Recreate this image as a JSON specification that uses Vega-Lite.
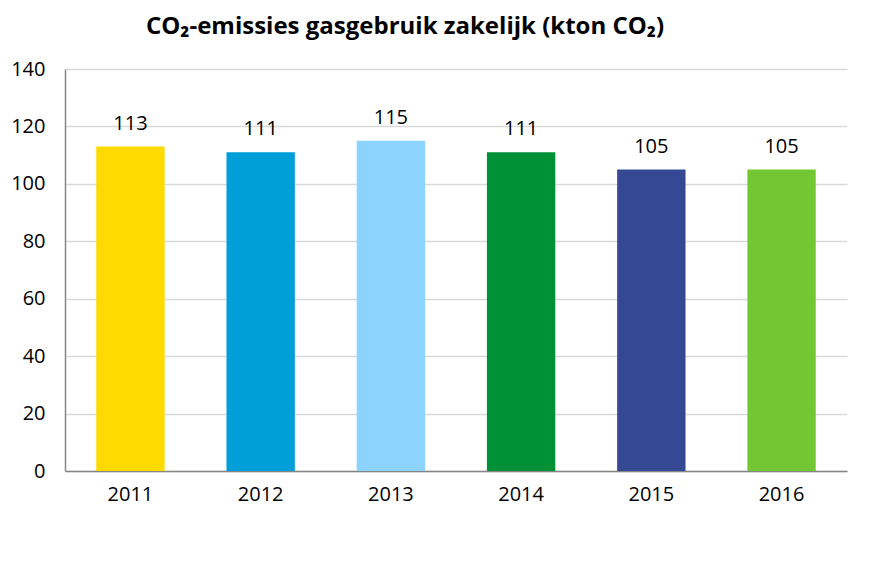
{
  "$schema": "https://vega.github.io/schema/vega-lite/v6.json",
  "width": 782,
  "height": 402,
  "autosize": {"type": "none"},
  "padding": {"left": 65, "top": 69, "right": 25, "bottom": 113},
  "background": "white",
  "title": {
    "text": "CO₂-emissies gasgebruik zakelijk (kton CO₂)",
    "font": "Open Sans",
    "fontSize": 24,
    "fontWeight": "bold",
    "color": "#000000",
    "anchor": "middle",
    "dx": -51,
    "offset": 20
  },
  "data": {
    "values": [
      {"jaar": "2011", "waarde": 113},
      {"jaar": "2012", "waarde": 111},
      {"jaar": "2013", "waarde": 115},
      {"jaar": "2014", "waarde": 111},
      {"jaar": "2015", "waarde": 105},
      {"jaar": "2016", "waarde": 105}
    ]
  },
  "config": {
    "view": {"stroke": null},
    "font": "Open Sans"
  },
  "encoding": {
    "x": {
      "field": "jaar",
      "type": "nominal",
      "scale": {"paddingInner": 0.475, "paddingOuter": 0.24},
      "axis": {
        "title": null,
        "labelAngle": 0,
        "labelFontSize": 20,
        "labelColor": "#000000",
        "labelPadding": 13,
        "ticks": false,
        "domainColor": "#868686",
        "domainWidth": 1.5,
        "grid": false
      }
    },
    "y": {
      "field": "waarde",
      "type": "quantitative",
      "scale": {"domain": [0, 140], "nice": false},
      "axis": {
        "title": null,
        "values": [0, 20, 40, 60, 80, 100, 120, 140],
        "labelFontSize": 20,
        "labelColor": "#000000",
        "labelPadding": 20,
        "ticks": false,
        "domainColor": "#868686",
        "domainWidth": 1.5,
        "gridColor": "#D9D9D9",
        "gridWidth": 1.5
      }
    }
  },
  "layer": [
    {
      "mark": {"type": "bar"},
      "encoding": {
        "color": {
          "field": "jaar",
          "type": "nominal",
          "legend": null,
          "scale": {
            "domain": ["2011", "2012", "2013", "2014", "2015", "2016"],
            "range": ["#FFDA00", "#009FDA", "#8DD3FF", "#009036", "#344893", "#72C732"]
          }
        }
      }
    },
    {
      "mark": {"type": "text", "dy": -23, "fontSize": 20, "color": "#000000"},
      "encoding": {
        "text": {"field": "waarde", "type": "quantitative"}
      }
    }
  ]
}
